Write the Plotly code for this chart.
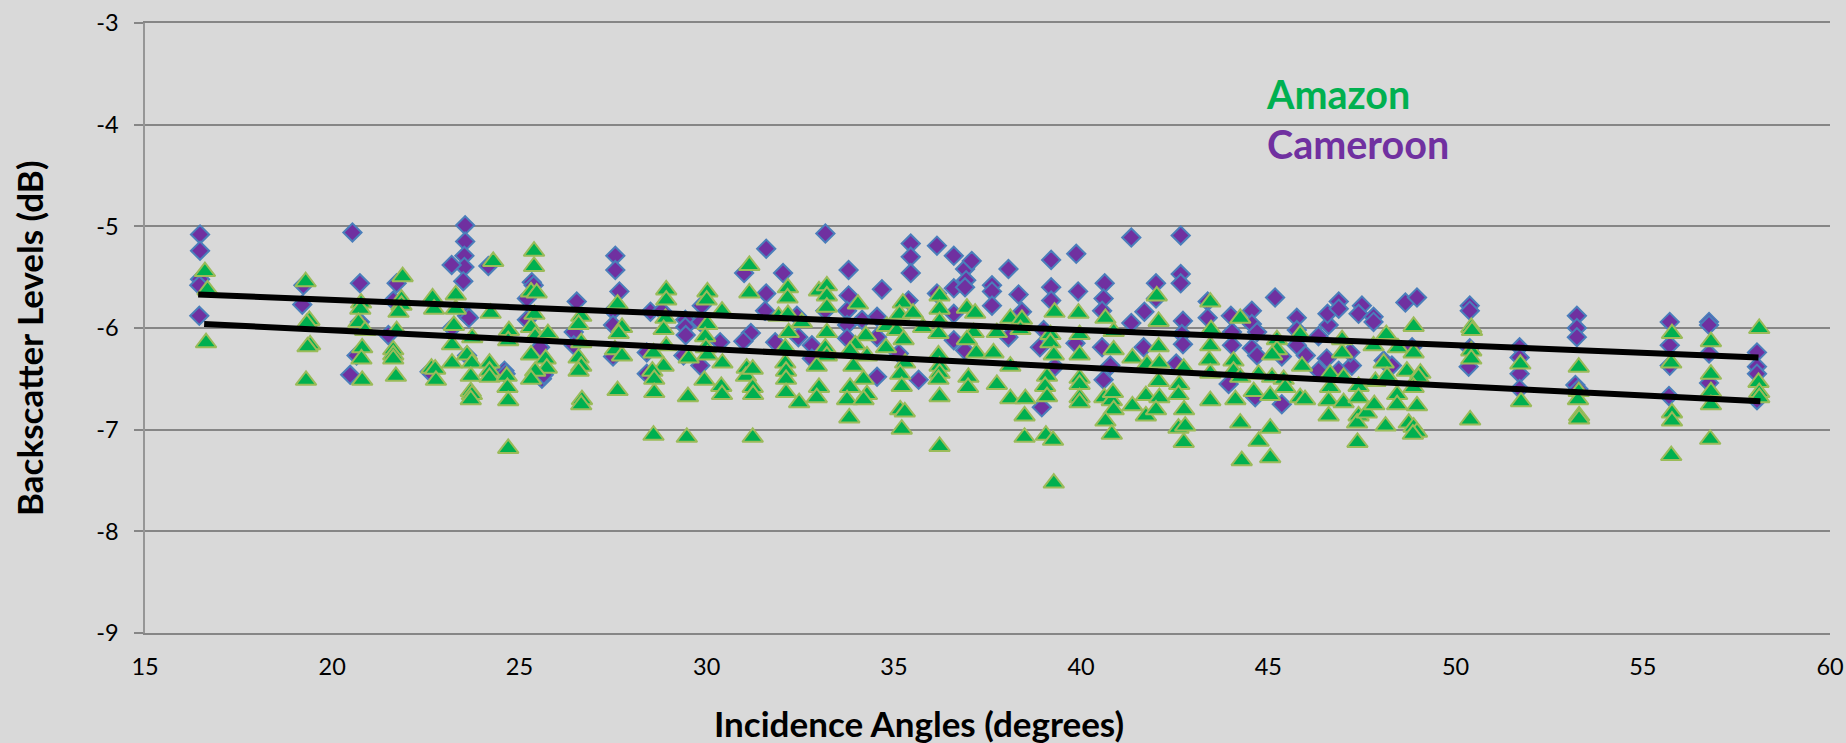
import plotly.graph_objects as go

# (incidence angle in degrees, backscatter level in dB)
cameroon_low_angles = [
 (16.47,-5.08),(16.47,-5.24),(16.47,-5.52),(16.45,-5.58),(16.45,-5.88),
 (19.23,-5.58),(19.2,-5.77),(20.54,-5.06),(20.74,-5.56),(20.74,-5.94),(20.65,-6.27),(20.48,-6.46),
 (21.72,-5.56),(21.63,-5.73),(21.5,-6.07),(22.6,-6.43),
 (23.55,-4.99),(23.55,-5.15),(23.53,-5.29),(23.53,-5.4),(23.5,-5.54),(23.19,-5.38),(24.17,-5.39),
 (23.6,-5.88),(23.65,-5.9),(23.6,-6.27),(23.2,-6.0),(24.6,-6.42),(24.63,-6.45),(25.6,-6.5),(25.65,-6.46),
 (25.33,-5.55),(25.2,-5.71),(25.2,-5.92),(25.55,-6.19),(25.38,-5.58),
 (26.53,-5.74),(26.45,-6.04),(26.45,-6.17),(27.56,-5.29),(27.56,-5.43),(27.67,-5.64),
 (27.5,-5.83),(27.5,-5.97),(27.5,-6.28),
]
cameroon_mid_angles = [
 (28.5,-5.84),(28.8,-5.83),(28.4,-6.24),(28.4,-6.45),(29.43,-5.92),(29.43,-5.99),(29.44,-6.07),(29.38,-6.27),
 (29.87,-5.78),(29.83,-5.94),(29.83,-6.37),(30.36,-6.14),(31.0,-5.46),(31.18,-6.05),(30.98,-6.13),
 (31.59,-5.22),(31.59,-5.66),(31.56,-5.83),(31.83,-6.14),(32.04,-5.46),(32.45,-6.09),(32.41,-5.88),
 (32.81,-6.17),(32.81,-6.3),(33.17,-5.07),(33.17,-5.83),(33.79,-5.43),(33.79,-5.68),(33.75,-5.83),
 (33.75,-5.97),(33.75,-6.1),(34.15,-5.92),(34.55,-5.89),(34.55,-6.09),(34.55,-6.48),(34.68,-5.62),
 (35.13,-6.25),(35.39,-5.73),(35.45,-5.17),(35.45,-5.3),(35.45,-5.46),(35.66,-6.51),
 (36.15,-5.19),(36.15,-5.66),(36.6,-5.29),(36.6,-5.61),(36.6,-5.86),(36.6,-6.12),(36.9,-5.42),(36.93,-5.53),
 (36.9,-5.6),(36.9,-6.22),(37.08,-5.34),(37.62,-5.58),(37.62,-5.64),(37.62,-5.78),(38.06,-5.42),(38.06,-6.09),
 (38.33,-5.67),(38.42,-5.84),(39.0,-6.02),(38.9,-6.19),(38.95,-6.78),(39.2,-5.33),(39.2,-5.6),(39.2,-5.73),
 (39.3,-6.38),(39.87,-5.27),(39.92,-5.64),(39.85,-6.15),
]
cameroon_high_angles = [
 (40.63,-5.56),(40.6,-5.71),(40.56,-5.83),(40.56,-6.19),(40.6,-6.51),(40.78,-6.37),
 (41.34,-5.11),(41.34,-5.95),(41.69,-5.84),(41.67,-6.19),(42.0,-5.56),(42.0,-5.71),
 (42.66,-5.09),(42.66,-5.47),(42.66,-5.56),(42.72,-5.93),(42.69,-6.06),(42.72,-6.16),(42.54,-6.35),
 (43.38,-5.74),(43.38,-5.9),(44.0,-5.88),(44.03,-6.04),(44.03,-6.17),(43.94,-6.55),
 (44.56,-5.83),(44.56,-5.96),(44.7,-6.04),(44.56,-6.2),(44.7,-6.27),(44.65,-6.68),
 (45.18,-5.7),(45.36,-6.28),(45.36,-6.75),(45.76,-5.9),(45.76,-6.02),(45.76,-6.17),(46.0,-6.27),
 (46.34,-6.08),(46.34,-6.42),(46.61,-5.97),(46.58,-5.86),(46.56,-6.3),(46.88,-5.74),(46.88,-5.81),(46.88,-6.42),
 (47.23,-6.37),(47.19,-6.24),(47.5,-5.78),(47.41,-5.86),(47.81,-5.89),(47.81,-5.94),
 (48.08,-6.32),(48.3,-6.37),(48.66,-5.75),(48.97,-5.7),(48.84,-6.19),
 (50.38,-5.78),(50.38,-5.83),(50.38,-6.2),(50.35,-6.38),
 (51.71,-6.19),(51.71,-6.29),(51.71,-6.45),(51.71,-6.6),
 (53.24,-5.88),(53.24,-6.0),(53.24,-6.09),(53.2,-6.56),(53.28,-6.6),
 (55.72,-5.94),(55.72,-6.17),(55.72,-6.37),(55.7,-6.67),
 (56.77,-5.94),(56.77,-5.97),(56.77,-6.25),(56.77,-6.54),
 (58.05,-6.24),(58.05,-6.38),(58.05,-6.45),(58.05,-6.71),
]

amazon_low_angles = [
 (16.6,-5.42),(16.67,-5.6),(16.63,-6.12),
 (19.29,-5.52),(19.39,-5.9),(19.32,-5.93),(19.41,-6.14),(19.34,-6.16),(19.3,-6.49),
 (20.77,-5.73),(20.75,-5.79),(20.7,-5.92),(20.88,-6.0),(20.8,-6.17),(20.78,-6.28),(20.8,-6.49),
 (21.88,-5.47),(21.85,-5.69),(21.85,-5.75),(21.77,-5.82),(21.72,-6.0),(21.63,-6.19),(21.63,-6.24),(21.63,-6.28),(21.7,-6.45),
 (22.68,-5.68),(22.72,-5.79),(22.65,-6.37),(22.75,-6.38),(22.77,-6.49),
 (23.3,-5.65),(23.3,-5.79),(23.25,-5.95),(23.2,-6.14),(23.2,-6.32),
 (23.74,-6.07),(23.6,-6.24),(23.73,-6.32),(23.7,-6.45),(23.7,-6.6),(23.73,-6.63),(23.7,-6.68),
 (24.3,-5.32),(24.23,-5.83),(24.72,-6.0),(24.7,-6.1),(24.2,-6.32),(24.2,-6.4),(24.2,-6.46),
 (24.66,-6.45),(24.68,-6.56),(24.7,-6.69),(24.7,-7.16),
 (25.39,-5.22),(25.39,-5.37),(25.31,-5.62),(25.46,-5.63),(25.4,-5.84),(25.31,-5.97),(25.42,-6.06),(25.76,-6.03),
 (25.31,-6.24),(25.7,-6.28),(25.73,-6.37),(25.42,-6.4),(25.31,-6.48),
 (26.65,-5.86),(26.58,-5.94),(26.65,-6.12),(26.58,-6.27),(26.65,-6.35),(26.58,-6.4),(26.67,-6.68),(26.65,-6.73),
 (27.62,-5.74),(27.74,-5.97),(27.55,-6.19),(27.74,-6.25),(27.65,-6.03),(27.62,-6.59),
]
amazon_mid_angles = [
 (28.92,-5.6),(28.92,-5.7),(28.9,-5.88),(28.85,-5.99),(28.92,-6.15),(28.85,-6.35),
 (28.58,-6.22),(28.55,-6.4),(28.6,-6.48),(28.6,-6.61),(28.58,-7.03),
 (30.02,-5.62),(30.0,-5.7),(30.41,-5.81),(30.02,-5.94),(29.96,-6.06),(29.98,-6.17),(30.02,-6.24),(30.42,-6.32),
 (29.52,-6.27),(29.94,-6.49),(29.5,-6.65),(29.47,-7.05),(30.39,-6.55),(30.41,-6.63),
 (31.07,-6.37),(31.05,-6.45),(31.23,-6.38),(31.23,-6.56),(31.24,-6.63),(31.23,-7.05),(31.14,-5.36),(31.14,-5.63),
 (31.92,-5.86),(32.17,-5.58),(32.16,-5.68),(32.17,-5.84),(32.19,-6.02),(32.1,-6.17),(32.1,-6.32),(32.12,-6.4),(32.12,-6.48),(32.12,-6.61),
 (32.47,-6.71),(32.54,-5.92),(33.0,-5.61),(33.21,-5.56),(33.21,-5.66),(33.21,-5.77),(33.21,-6.02),(33.17,-6.17),(33.21,-6.25),
 (32.94,-6.35),(33.0,-6.56),(32.94,-6.66),
 (34.04,-5.74),(34.25,-6.05),(33.97,-6.14),(33.83,-6.2),(34.28,-6.25),(33.92,-6.35),(34.19,-6.48),(33.83,-6.56),
 (33.75,-6.68),(34.28,-6.63),(34.19,-6.68),(33.81,-6.86),(34.81,-5.96),(34.79,-6.17),
 (35.24,-5.73),(35.15,-5.84),(35.08,-6.0),(35.51,-5.83),(35.26,-6.09),(35.78,-5.97),(35.3,-6.32),(35.17,-6.43),(35.21,-6.55),
 (35.17,-6.78),(35.29,-6.8),(35.21,-6.97),
 (36.22,-5.66),(36.22,-5.79),(36.22,-5.91),(36.19,-6.03),(36.19,-6.24),(36.22,-6.35),(36.22,-6.42),(36.19,-6.48),(36.22,-6.65),(36.22,-7.14),
 (36.95,-5.78),(37.17,-5.83),(37.13,-6.02),(36.95,-6.09),(37.2,-6.22),(36.99,-6.46),(36.98,-6.56),
 (37.75,-6.02),(37.66,-6.22),(38.11,-5.88),(38.42,-5.89),(38.38,-5.99),(38.11,-6.35),(37.75,-6.53),(38.11,-6.67),
 (38.51,-6.67),(38.49,-6.84),(38.49,-7.05),(39.06,-7.03),(39.25,-7.08),(39.27,-7.5),(39.29,-5.82),(39.18,-6.04),
 (39.18,-6.12),(39.27,-6.24),(39.09,-6.45),(39.04,-6.55),(39.09,-6.65),
 (39.93,-5.83),(39.96,-6.04),(39.96,-6.24),(39.96,-6.47),(39.96,-6.53),(39.96,-6.66),(39.96,-6.71),
]
amazon_high_angles = [
 (40.65,-5.88),(40.62,-6.66),(40.82,-6.69),(40.87,-6.78),(40.65,-6.89),(40.82,-7.02),(40.87,-6.19),(40.87,-6.01),(40.85,-6.61),
 (41.37,-6.27),(41.37,-6.74),(41.76,-6.33),(41.73,-6.64),(41.73,-6.84),
 (42.02,-5.66),(42.07,-5.91),(42.07,-6.16),(42.09,-6.32),(42.07,-6.5),(42.09,-6.66),(42.0,-6.78),
 (42.74,-6.37),(42.62,-6.53),(42.6,-6.63),(42.75,-6.78),(42.6,-6.96),(42.78,-6.94),(42.74,-7.1),
 (43.45,-5.72),(43.47,-5.99),(43.45,-6.15),(43.42,-6.29),(43.45,-6.42),(43.45,-6.69),
 (44.07,-6.3),(44.07,-6.4),(44.25,-5.88),(44.25,-6.46),(44.12,-6.68),(44.25,-6.91),(44.29,-7.28),
 (44.74,-6.43),(44.61,-6.6),(44.74,-7.09),(45.05,-6.96),(45.05,-7.25),(45.1,-6.46),(45.05,-6.64),
 (45.23,-6.09),(45.23,-6.19),(45.1,-6.24),(45.41,-6.48),(45.45,-6.56),
 (45.85,-6.04),(45.9,-6.35),(45.85,-6.66),(45.98,-6.68),
 (46.65,-6.43),(46.97,-6.09),(46.97,-6.22),(47.01,-6.46),(46.65,-6.56),(46.61,-6.69),(46.61,-6.84),(47.01,-6.71),
 (47.41,-6.55),(47.41,-6.66),(47.41,-6.84),(47.37,-6.91),(47.38,-7.1),(47.63,-6.81),
 (47.81,-6.15),(47.86,-6.5),(47.83,-6.73),(48.15,-6.04),(48.08,-6.32),(48.17,-6.45),(48.13,-6.94),
 (48.46,-6.17),(48.44,-6.63),(48.44,-6.73),(48.7,-6.4),(48.97,-6.74),(49.06,-6.42),(49.01,-6.46),
 (48.88,-5.96),(48.88,-6.22),(48.88,-6.56),(48.75,-6.91),(48.88,-6.95),(48.97,-7.0),(48.86,-7.02),
 (50.42,-5.97),(50.44,-6.0),(50.42,-6.2),(50.42,-6.28),(50.39,-6.88),
 (51.73,-6.33),(51.75,-6.7),
 (53.29,-6.36),(53.29,-6.6),(53.27,-6.68),(53.3,-6.84),(53.3,-6.87),
 (55.78,-6.03),(55.76,-6.32),(55.78,-6.81),(55.78,-6.89),(55.76,-7.23),
 (56.82,-6.11),(56.82,-6.43),(56.82,-6.6),(56.82,-6.73),(56.8,-7.07),
 (58.11,-5.98),(58.09,-6.51),(58.11,-6.61),(58.11,-6.66),
]

cameroon_trend_angles = [16.42, 58.09]
cameroon_trend_levels = [-5.67, -6.29]
amazon_trend_angles = [16.58, 58.14]
amazon_trend_levels = [-5.96, -6.72]

x_ticks = [15, 20, 25, 30, 35, 40, 45, 50, 55, 60]
y_ticks = [-3, -4, -5, -6, -7, -8, -9]
y_tick_labels = ["-3", "-4", "-5", "-6", "-7", "-8", "-9"]

BG = "#D9D9D9"
GRID = "#868686"
FONT = "Lato"
W, H = 1846, 743
L, R, T, B = 144.7, 16, 22.7, 110
# Plotly's triangle sits above its anchor point; this re-centres it on the value.
TRIANGLE_CENTRING = 0.025

cameroon = cameroon_low_angles + cameroon_mid_angles + cameroon_high_angles
amazon = amazon_low_angles + amazon_mid_angles + amazon_high_angles

fig = go.Figure()
fig.add_trace(go.Scatter(
    x=[p[0] for p in cameroon], y=[p[1] for p in cameroon], mode="markers", name="Cameroon",
    marker=dict(symbol="diamond", size=14, color="#7030A0", line=dict(color="#4A7EBB", width=2)),
))
fig.add_trace(go.Scatter(
    x=[p[0] for p in amazon], y=[p[1] - TRIANGLE_CENTRING for p in amazon], mode="markers", name="Amazon",
    marker=dict(symbol="triangle-up", size=18, color="#00B050", line=dict(color="#9BBB59", width=2)),
))
for xs, ys in ((cameroon_trend_angles, cameroon_trend_levels), (amazon_trend_angles, amazon_trend_levels)):
    fig.add_trace(go.Scatter(x=xs, y=ys, mode="lines", line=dict(color="#000000", width=6), showlegend=False))

pw = W - L - R
ph = H - T - B
def px(v): return (v - L) / pw
def py(v): return 1 - (v - T) / ph

fig.update_layout(
    width=W, height=H, margin=dict(l=L, r=R, t=T, b=B, pad=0, autoexpand=False),
    paper_bgcolor=BG, plot_bgcolor=BG, showlegend=False,
    font=dict(family=FONT, size=23.5, color="#000000"),
    xaxis=dict(range=[15, 60], tickmode="array", tickvals=x_ticks, ticks="", showgrid=False, automargin=False,
               zeroline=False, showline=True, mirror=True, linecolor=GRID, linewidth=1.5,
               ticklabelstandoff=12, tickfont=dict(size=23.5)),
    yaxis=dict(range=[-9, -3], tickmode="array", tickvals=y_ticks, ticktext=y_tick_labels, ticks="outside",
               ticklen=9, tickwidth=1.5, tickcolor=GRID, showgrid=True, gridcolor=GRID, gridwidth=1.5, automargin=False,
               zeroline=False, showline=True, linecolor="#969696", linewidth=1.5, ticklabelstandoff=11,
               tickfont=dict(size=23.5)),
    annotations=[
        dict(text="<b>Incidence Angles (degrees)</b>", xref="paper", yref="paper", x=px(919), y=py(723),
             xanchor="center", yanchor="middle", showarrow=False, font=dict(size=35, family=FONT)),
        dict(text="<b>Backscatter Levels (dB)</b>", xref="paper", yref="paper", x=px(28), y=py(338.5),
             xanchor="center", yanchor="middle", showarrow=False, textangle=-90, font=dict(size=35, family=FONT)),
        dict(text="<b>Amazon</b>", xref="paper", yref="paper", x=px(1264), y=py(93.5),
             xanchor="left", yanchor="middle", showarrow=False, font=dict(size=39.5, family=FONT, color="#00B050")),
        dict(text="<b>Cameroon</b>", xref="paper", yref="paper", x=px(1265), y=py(143.5),
             xanchor="left", yanchor="middle", showarrow=False, font=dict(size=39.5, family=FONT, color="#7030A0")),
    ],
)
fig.write_html("out.html", config={"displayModeBar": False},
               post_script="document.body.style.margin='0';document.body.style.overflow='hidden';")
